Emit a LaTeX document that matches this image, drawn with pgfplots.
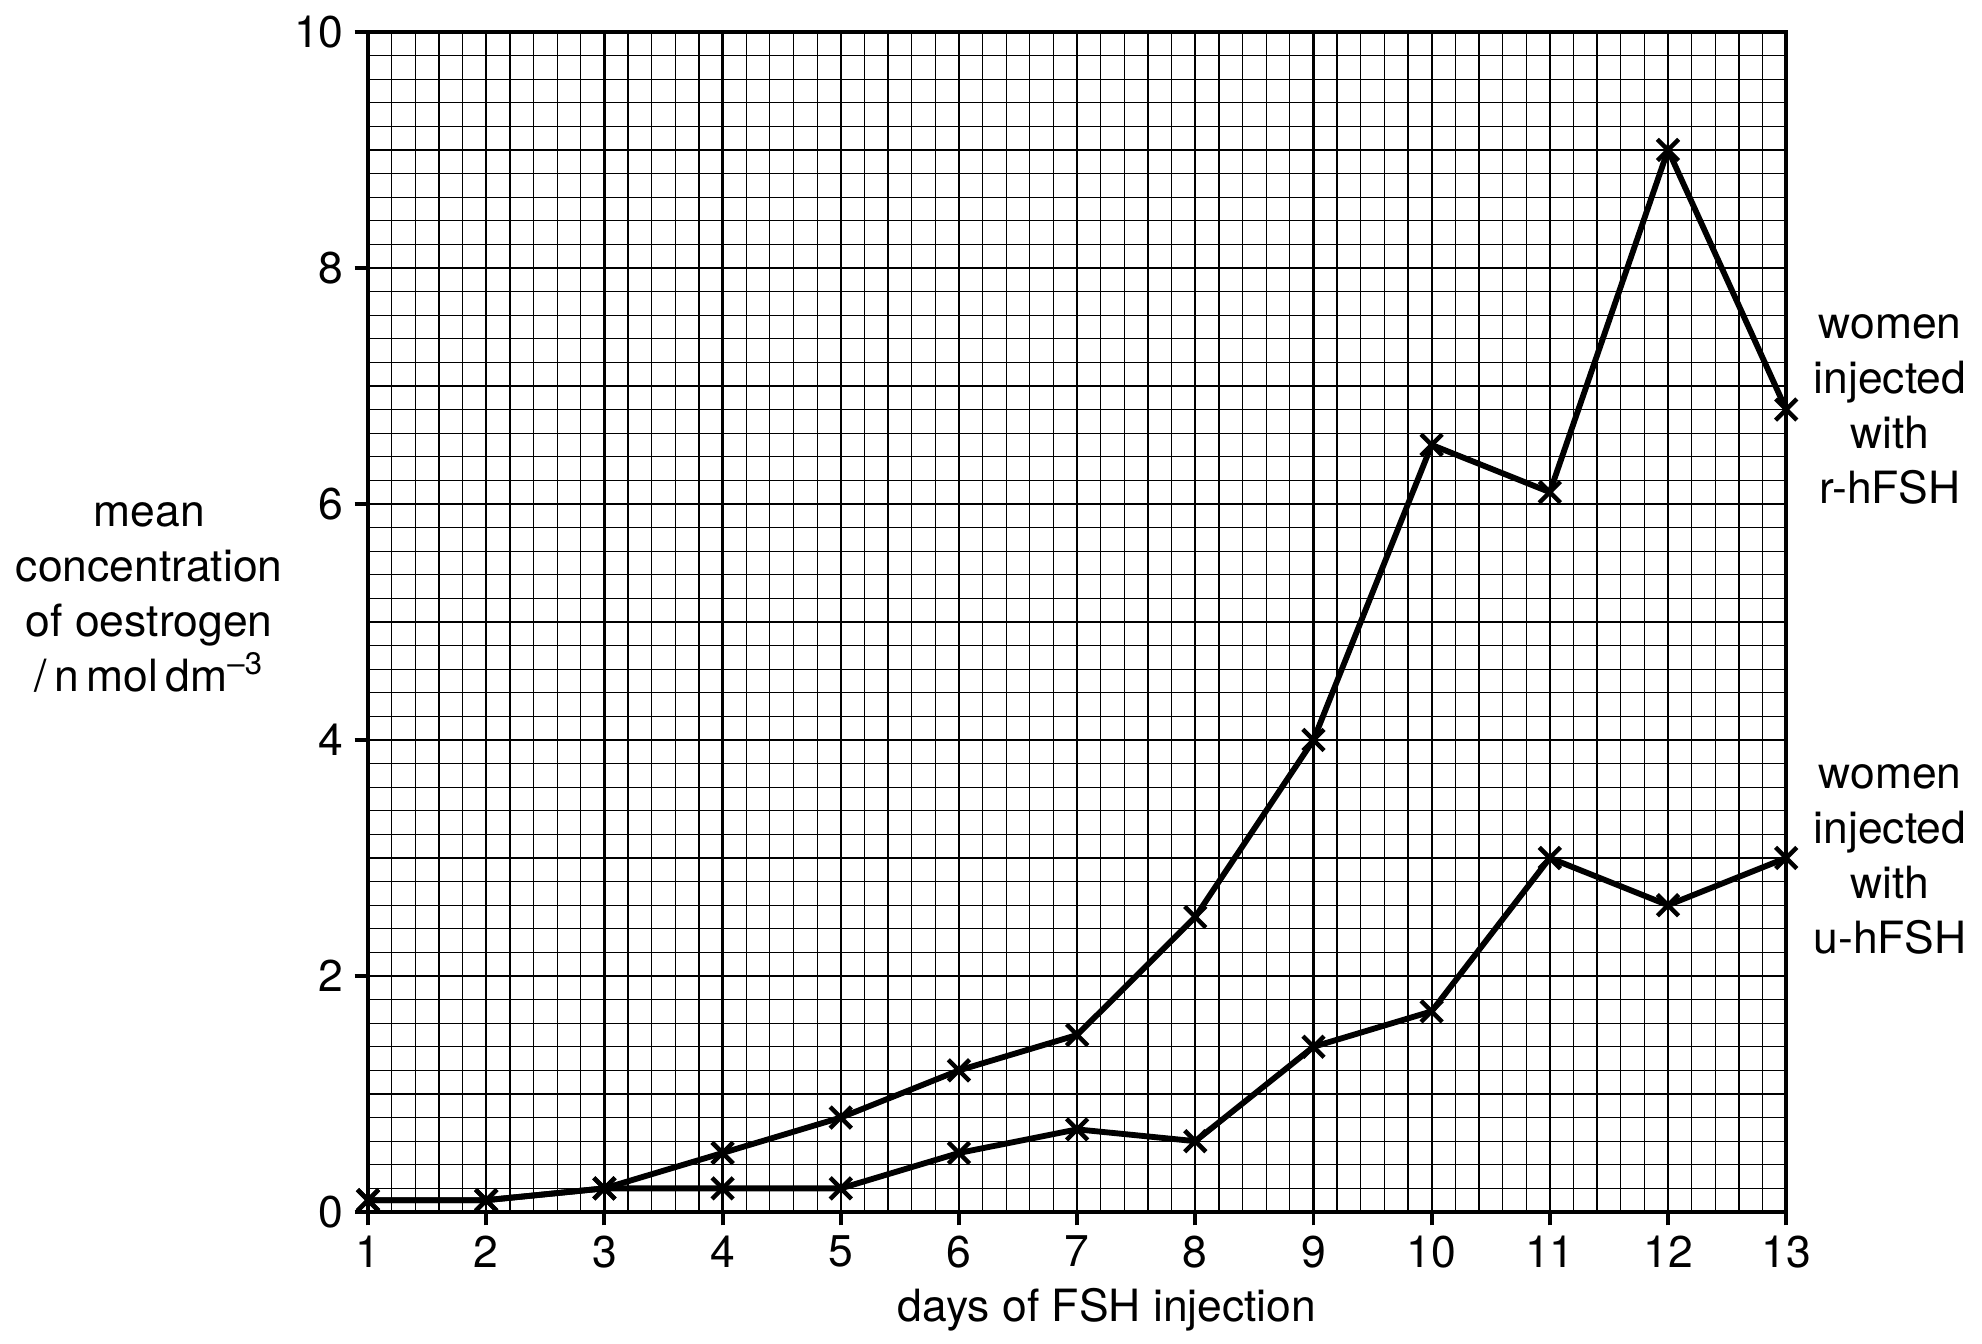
\documentclass[border=0pt]{standalone}
\usepackage{pgfplots}
\pgfplotsset{compat=1.18}
\usepackage{fontspec}
\setmainfont{TeX Gyre Heros}
\begin{document}
\begin{tikzpicture}
\path[use as bounding box] (-132.5pt,-47.5pt) rectangle (581pt,436.3pt);
\begin{axis}[
  scale only axis,
  width=510.5pt, height=424.8pt,
  xmin=1, xmax=13, ymin=0, ymax=10,
  xtick={1,...,13},
  ytick={0,2,...,10},
  minor xtick={1,1.2,...,13},
  minor ytick={0,0.2,...,10},
  extra y ticks={1,3,5,7,9},
  extra y tick labels={},
  extra y tick style={major tick length=0pt, grid=major},
  grid=both,
  major grid style={black, line width=0.8pt},
  minor grid style={black, line width=0.45pt},
  axis line style={black, line width=1.4pt},
  tick align=outside,
  major tick length=4.8pt,
  minor tick length=0pt,
  tick style={black, line width=1.4pt},
  xtick pos=bottom, ytick pos=left,
  /pgf/number format/assume math mode=true,
  tick label style={font=\fontsize{16}{19}\selectfont, inner sep=0pt},
  xticklabel style={anchor=north, yshift=-3.5pt},
  yticklabel style={anchor=east, xshift=-3.8pt},
  clip=false,
]
\addplot[black, line width=2.1pt, mark=x, mark size=5.4pt, mark options={line width=1.6pt}] coordinates {
(1,0.1) (2,0.1) (3,0.2) (4,0.5) (5,0.8) (6,1.2) (7,1.5) (8,2.5) (9,4.0) (10,6.5) (11,6.1) (12,9.0) (13,6.8)
};
\addplot[black, line width=2.1pt, mark=x, mark size=5.4pt, mark options={line width=1.6pt}] coordinates {
(1,0.1) (2,0.1) (3,0.2) (4,0.2) (5,0.2) (6,0.5) (7,0.7) (8,0.6) (9,1.4) (10,1.7) (11,3.0) (12,2.6) (13,3.0)
};
\end{axis}
\begin{scope}[every node/.style={font=\fontsize{16}{19}\selectfont, inner sep=0pt, anchor=base}]
\node at (-78.8pt,246.6pt) {mean};
\node at (-78.8pt,226.8pt) {concentration};
\node at (-78.8pt,207.0pt) {of oestrogen};
\node at (-78.8pt,187.2pt) {/\,n\,mol\,dm\textsuperscript{\textendash 3}};
\node at (547.9pt,314.6pt) {women};
\node at (547.9pt,294.8pt) {injected};
\node at (547.9pt,275.0pt) {with};
\node at (547.9pt,255.2pt) {r-hFSH};
\node at (547.9pt,152.6pt) {women};
\node at (547.9pt,132.8pt) {injected};
\node at (547.9pt,113.0pt) {with};
\node at (547.9pt,93.2pt) {u-hFSH};
\node at (266pt,-39.6pt) {days of FSH injection};
\end{scope}
\end{tikzpicture}
\end{document}
